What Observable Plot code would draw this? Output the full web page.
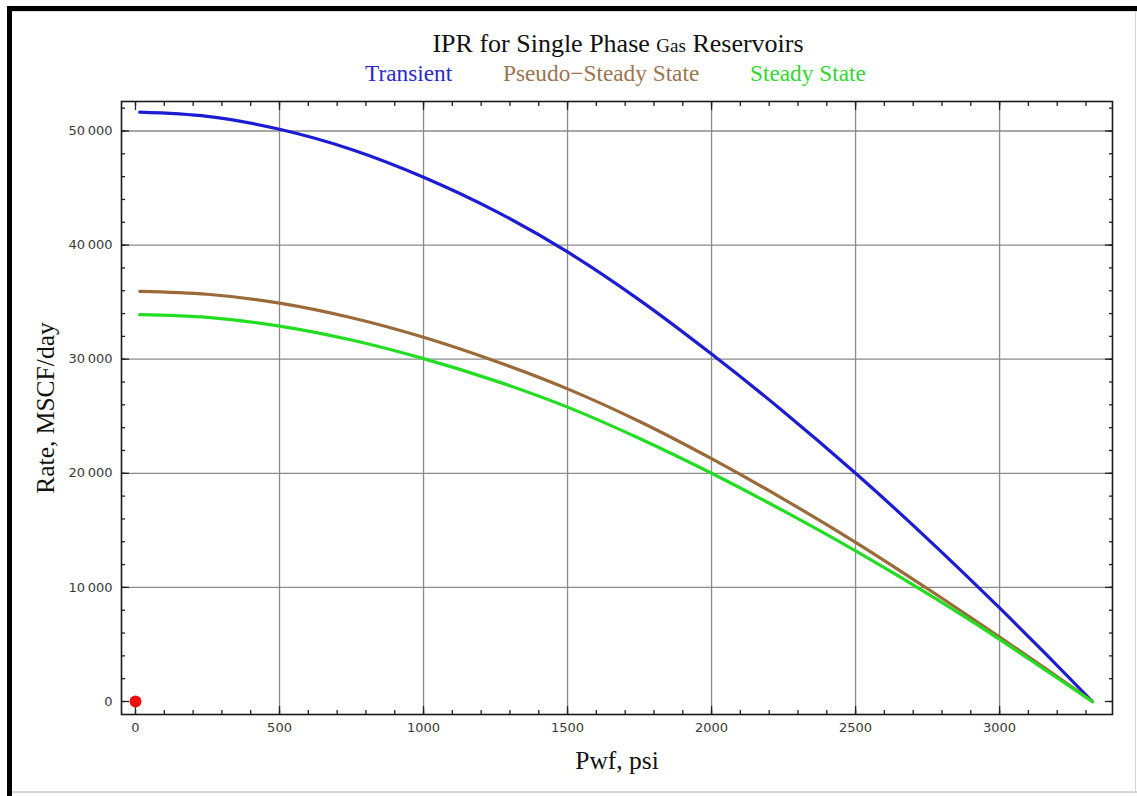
<!DOCTYPE html>
<html>
<head>
<meta charset="utf-8">
<script src="https://cdn.jsdelivr.net/npm/d3@7"></script>
<script src="https://cdn.jsdelivr.net/npm/@observablehq/plot@0.6"></script>
<style>
  body { margin: 0; background: #fff; }
  #wrap { position: relative; width: 1137px; height: 796px; overflow: hidden; background: #fff; }
  #chart { position: absolute; left: 0; top: 0; }
  .ov { position: absolute; white-space: nowrap; font-family: "Liberation Serif", "Times New Roman", serif; }
  #title { left: 0; width: 1236px; top: 31px; text-align: center; font-size: 26px; line-height: 26px; color: #111; }
  #title .small { font-size: 19px; }
  .leg { top: 62px; font-size: 23.3px; line-height: 23.3px; }
  .bd { position: absolute; }
</style>
</head>
<body>
<div id="wrap">
  <div id="chart"></div>
  <div class="bd" style="left:7px;top:6px;width:1130px;height:5px;background:#000"></div>
  <div class="bd" style="left:7px;top:6px;width:5px;height:790px;background:#000"></div>
  <div class="bd" style="left:12px;top:11px;width:1125px;height:1px;background:#d8d8d8"></div>
  <div class="bd" style="left:12px;top:791px;width:1125px;height:2px;background:#d4d4d4"></div>
  <div class="bd" style="left:1135px;top:11px;width:1px;height:782px;background:#d4d4d4"></div>
  <div id="title" class="ov">IPR for Single Phase <span class="small">Gas</span> Reservoirs</div>
  <div id="leg0" class="ov leg"></div>
  <div id="leg1" class="ov leg"></div>
  <div id="leg2" class="ov leg"></div>
</div>
<script>
// ---- data ----
const pwf        = [14.7, 250, 500, 750, 1000, 1250, 1500, 1750, 2000, 2250, 2500, 2750, 3000, 3161, 3322];
const qTransient = [51650, 51280, 50150, 48380, 45950, 42980, 39400, 35180, 30450, 25400, 20000, 14260, 8200, 4150, 0];
const qPseudo    = [35950, 35690, 34910, 33630, 31920, 29820, 27400, 24540, 21280, 17740, 13950, 9880, 5650, 2870, 0];
const qSteady    = [33900, 33660, 32900, 31680, 30050, 28100, 25800, 23050, 20000, 16700, 13200, 9450, 5450, 2720, 0];
const seriesNames = ["Transient", "Pseudo\u2212Steady State", "Steady State"];
const seriesColors = ["#1c1cd2", "#9a6a3a", "#22dd22"];
const legendColors = ["#2a2acc", "#9c7450", "#33d633"];
const pointPwf = [0];
const pointQ = [0];
const xMajor = [0, 500, 1000, 1500, 2000, 2500, 3000];
const yMajor = [0, 10000, 20000, 30000, 40000, 50000];
const xMinor = d3.range(0, 3400, 100);
const yMinor = d3.range(0, 52001, 2000);

const seriesValues = [qTransient, qPseudo, qSteady];
const rows = seriesNames.flatMap((s, k) => pwf.map((p, i) => ({ p, q: seriesValues[k][i], s })));
const pts = pointPwf.map((p, i) => ({ p, q: pointQ[i] }));

const tickColor = "#222";
const labelFont = { fontFamily: "DejaVu Sans, Verdana, sans-serif", fontSize: 13, fill: "#3a3a3a" };
const group = d => d >= 10000 ? d3.format(",")(d).replace(/,/g, "\u2009") : String(d);
const serif = "Liberation Serif, Times New Roman, serif";

const chart = Plot.plot({
  width: 1137,
  height: 796,
  marginLeft: 121,
  marginRight: 25,
  marginTop: 101,
  marginBottom: 82,
  style: { background: "transparent", overflow: "visible" },
  x: { domain: [-48.6, 3392] },
  y: { domain: [-1139, 52585] },
  color: { domain: seriesNames, range: seriesColors },
  marks: [
    Plot.gridX(xMajor.filter(d => d !== 0), { stroke: "#8a8a8a", strokeOpacity: 1, strokeWidth: 1.3 }),
    Plot.gridY(yMajor.filter(d => d !== 0), { stroke: "#8a8a8a", strokeOpacity: 1, strokeWidth: 1.3 }),
    // inward ticks on all four sides
    Plot.axisX(xMinor, { anchor: "bottom", tickSize: -4, fill: "none", label: null, stroke: tickColor, strokeWidth: 1.3 }),
    Plot.axisX(xMajor, { anchor: "bottom", tickSize: -8, fill: "none", label: null, stroke: tickColor, strokeWidth: 1.3 }),
    Plot.axisX(xMinor, { anchor: "top", tickSize: -4, fill: "none", label: null, stroke: tickColor, strokeWidth: 1.3 }),
    Plot.axisX(xMajor, { anchor: "top", tickSize: -8, fill: "none", label: null, stroke: tickColor, strokeWidth: 1.3 }),
    Plot.axisY(yMinor, { anchor: "left", tickSize: -4, fill: "none", label: null, stroke: tickColor, strokeWidth: 1.3 }),
    Plot.axisY(yMajor, { anchor: "left", tickSize: -8, fill: "none", label: null, stroke: tickColor, strokeWidth: 1.3 }),
    Plot.axisY(yMinor, { anchor: "right", tickSize: -4, fill: "none", label: null, stroke: tickColor, strokeWidth: 1.3 }),
    Plot.axisY(yMajor, { anchor: "right", tickSize: -8, fill: "none", label: null, stroke: tickColor, strokeWidth: 1.3 }),
    // tick labels
    Plot.axisX(xMajor, { anchor: "bottom", tickSize: 0, tickPadding: 8, label: null, tickFormat: group, ...labelFont }),
    Plot.axisY(yMajor, { anchor: "left", tickSize: 0, tickPadding: 9, label: null, tickFormat: group, ...labelFont }),
    Plot.frame({ stroke: "#1a1a1a", strokeWidth: 1.6 }),
    Plot.line(rows, { x: "p", y: "q", z: "s", stroke: "s", strokeWidth: 3.2, curve: "monotone-x" }),
    Plot.dot(pts, { x: "p", y: "q", r: 6, fill: "#ee1111", stroke: "none", symbol: "circle" }),
    // axis titles
    Plot.text(["Pwf, psi"], { frameAnchor: "bottom", dy: 54, text: d => d, fontFamily: serif, fontSize: 25.5, fill: "#111", lineAnchor: "bottom" }),
    Plot.text(["Rate, MSCF/day"], { frameAnchor: "left", dx: -76, rotate: -90, textAnchor: "middle", text: d => d, fontFamily: serif, fontSize: 25.5, fill: "#111" })
  ]
});
document.getElementById("chart").appendChild(chart);

const legLefts = [365, 503, 750];
seriesNames.forEach((n, i) => {
  const el = document.getElementById("leg" + i);
  el.textContent = n;
  el.style.color = legendColors[i];
  el.style.left = legLefts[i] + "px";
});
</script>
</body>
</html>
